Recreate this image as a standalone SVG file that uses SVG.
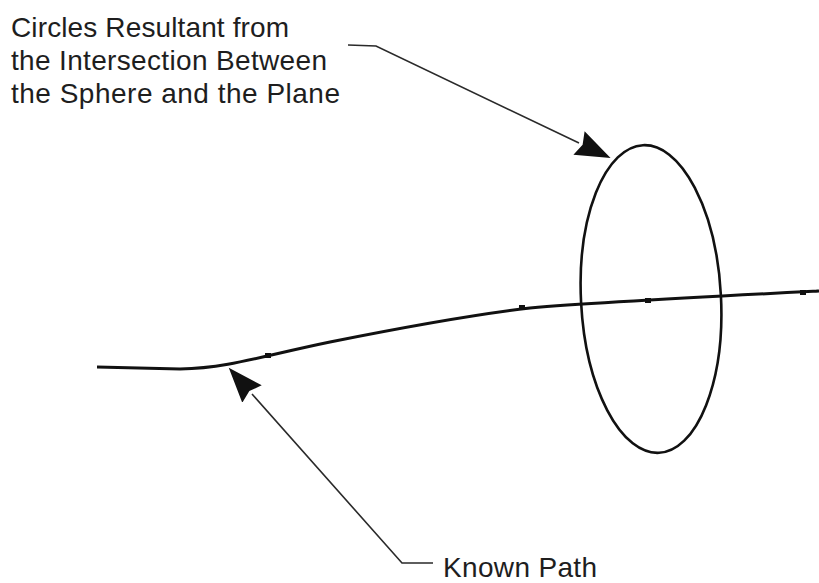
<svg xmlns="http://www.w3.org/2000/svg" width="819" height="583" viewBox="0 0 819 583">
<style>
.lbl{font-family:"Liberation Sans",Arial,sans-serif;font-size:28px;fill:#1e1e1e}
.leader{fill:none;stroke:#2a2a2a;stroke-width:1.6}
.curve{fill:none;stroke:#111;stroke-width:3}
.knot{fill:#111}
</style>
<defs>
<marker id="ah" markerUnits="userSpaceOnUse" markerWidth="40" markerHeight="30" refX="0" refY="13" orient="auto" viewBox="0 0 40 26">
<path d="M0,0 L35,13 L0,26 L4,13 Z" fill="#111"/>
</marker>
</defs>
<rect width="819" height="583" fill="#fff"/>
<g id="label-circles">
<text class="lbl" x="11" y="37" textLength="278" lengthAdjust="spacing">Circles Resultant from</text>
<text class="lbl" x="11" y="70" textLength="316" lengthAdjust="spacing">the Intersection Between</text>
<text class="lbl" x="11" y="103" textLength="329" lengthAdjust="spacing">the Sphere and the Plane</text>
</g>
<g id="label-known-path">
<text class="lbl" x="443" y="577" textLength="154" lengthAdjust="spacing">Known Path</text>
</g>
<g id="circle">
<ellipse cx="651" cy="299" rx="70" ry="154" transform="rotate(-3 651 299)" fill="none" stroke="#111" stroke-width="2.6"/>
</g>
<g id="known-path">
<path class="curve" d="M97,367 L180,369 C228,368 262,356 330,342 C400,328 470,315 530,308 C600,302 700,297 819,291"/>
<rect class="knot" x="265" y="353" width="6" height="5"/>
<rect class="knot" x="519" y="305" width="6" height="5"/>
<rect class="knot" x="645" y="298" width="6" height="5"/>
<rect class="knot" x="800" y="290" width="6" height="5"/>
</g>
<g id="connectors">
<path class="leader" d="M348,45 L376,46 L579,143" marker-end="url(#ah)"/>
<path class="leader" d="M433,563 L402,563 L252,394" marker-end="url(#ah)"/>
</g>
</svg>
